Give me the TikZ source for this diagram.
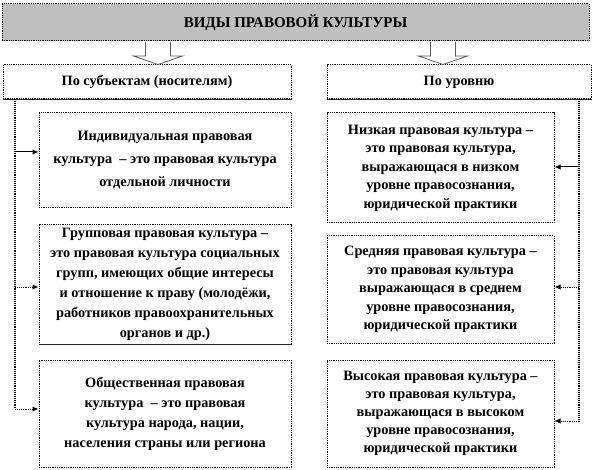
\documentclass[tikz,border=0pt]{standalone}
\usepackage{fontspec}
\setmainfont{Liberation Serif}
\usetikzlibrary{arrows.meta}
\begin{document}
\begin{tikzpicture}[x=1pt,y=-1pt,
  dotborder/.style={draw=black, line width=1pt, dash pattern=on 1pt off 0.8pt},
  box/.style={dotborder, inner sep=0pt, align=center, fill=white,
    font=\bfseries\fontsize{14.3}{20}\selectfont},
  catbox/.style={box, font=\bfseries\fontsize{14.3}{15}\selectfont},
  vline/.style={draw=black, line width=1.4pt, dash pattern=on 1pt off 0.9pt},
  arr/.style={draw=black, line width=1pt, -{Latex[length=6pt,width=5.5pt]}},
  arrdot/.style={arr, dash pattern=on 1pt off 0.9pt},
  blockarrow/.style={draw=black!65, line width=0.8pt, fill=white}]
\useasboundingbox (0,0) rectangle (594,470);

% title
\node[box, fill=black!25, minimum width=587pt, minimum height=37pt,
  font=\bfseries\fontsize{15}{16}\selectfont] (title) at (295.5,22.5) {ВИДЫ ПРАВОВОЙ КУЛЬТУРЫ};

% category boxes
\node[catbox, minimum width=288pt, minimum height=34pt] (catL) at (147,82) {По субъектам (носителям)};
\node[catbox, minimum width=264pt, minimum height=34pt] (catR) at (459,82) {По уровню};
\draw[black!85, line width=1pt] (catL.south west) -- (catL.south east);
\draw[black!85, line width=1pt] (catR.south west) -- (catR.south east);

% block arrows
\foreach \cx in {158,443}{
  \draw[blockarrow] (\cx-12.5,42) -- (\cx-12.5,56) -- (\cx-24.5,56) -- (\cx,64.5)
     -- (\cx+24.5,56) -- (\cx+12.5,56) -- (\cx+12.5,42);
}

% left column
\node[box, minimum width=252pt, minimum height=95pt, font=\bfseries\fontsize{14.3}{23}\selectfont] (L1) at (165,160.5)
  {Индивидуальная правовая\\культура \ – это правовая культура\\отдельной личности};
\node[box, minimum width=252pt, minimum height=119pt] (L2) at (165,284.5)
  {Групповая правовая культура –\\это правовая культура социальных\\групп, имеющих общие интересы\\и отношение к праву (молодёжи,\\работников правоохранительных\\органов и др.)};
\draw[black!85, line width=1pt] (L2.south west) -- (L2.south east);
\node[box, minimum width=252pt, minimum height=107pt] (L3) at (165,413.5)
  {Общественная правовая\\культура \ – это правовая\\культура народа, нации,\\населения страны или региона};

% right column
\node[box, minimum width=227pt, minimum height=110pt, font=\bfseries\fontsize{14.3}{18.5}\selectfont] (R1) at (440.5,168)
  {Низкая правовая культура –\\это правовая культура,\\выражающася в низком\\уровне правосознания,\\юридической практики};
\node[box, minimum width=227pt, minimum height=107pt, font=\bfseries\fontsize{14.3}{18.5}\selectfont] (R2) at (440.5,289.5)
  {Средняя правовая культура –\\это правовая культура\\выражающася в среднем\\уровне правосознания,\\юридической практики};
\node[box, minimum width=227pt, minimum height=107pt, font=\bfseries\fontsize{14.3}{18}\selectfont] (R3) at (440.5,413.5)
  {Высокая правовая культура –\\это правовая культура,\\выражающася в высоком\\уровне правосознания,\\юридической практики};

% connectors left
\coordinate (pL1) at (15,152);
\coordinate (pL2) at (15,287);
\coordinate (pL3) at (15,409);
\draw[vline] (catL.south -| pL3) -- (pL3);
\draw[arr] (pL1) -- (pL1 -| L1.west);
\draw[arrdot] (pL2) -- (pL2 -| L2.west);
\draw[arrdot] (pL3) -- (pL3 -| L3.west);

% connectors right
\coordinate (pR1) at (579,167);
\coordinate (pR2) at (579,287);
\coordinate (pR3) at (579,421);
\draw[vline] (catR.south -| pR3) -- (pR3);
\draw[arr] (pR1) -- (pR1 -| R1.east);
\draw[arrdot] (pR2) -- (pR2 -| R2.east);
\draw[arrdot] (pR3) -- (pR3 -| R3.east);
\end{tikzpicture}
\end{document}
